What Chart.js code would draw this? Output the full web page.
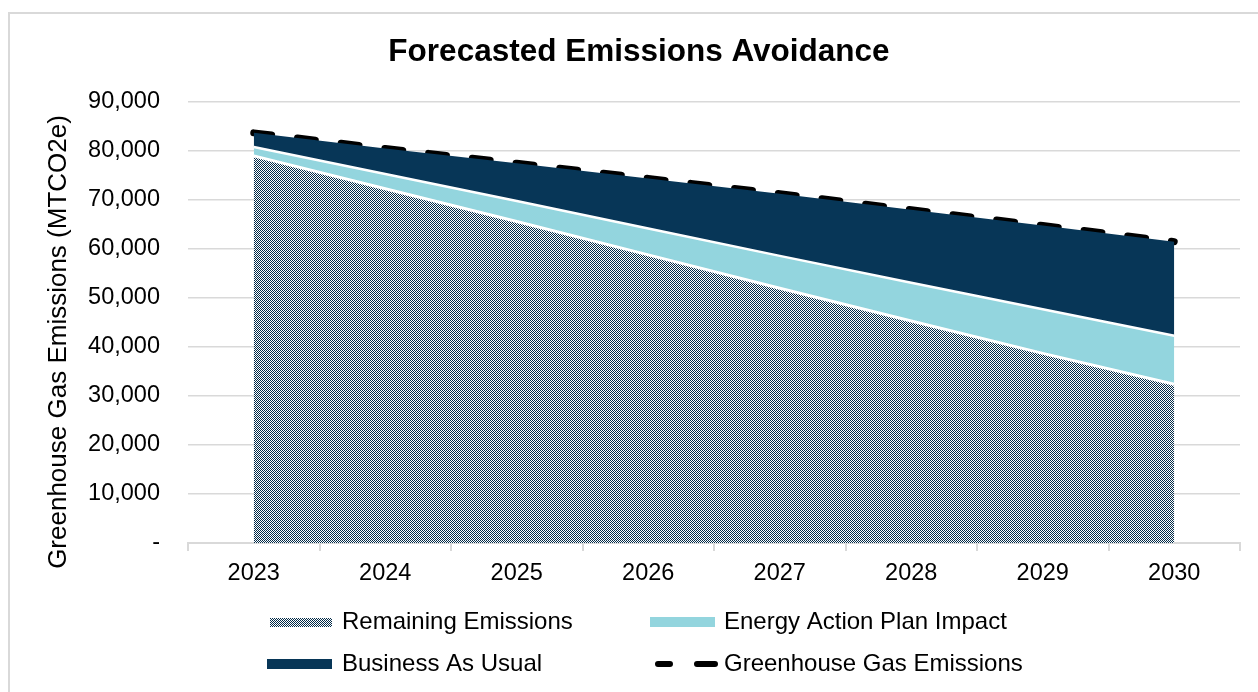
<!DOCTYPE html>
<html>
<head>
<meta charset="utf-8">
<script src="https://cdn.jsdelivr.net/npm/chart.js@4.4.1/dist/chart.umd.min.js"></script>
<style>
  html, body { margin: 0; padding: 0; background: #fff; overflow: hidden; }
  #frame { position: absolute; left: 8px; top: 12px; width: 1300px; height: 720px; border: 2px solid #d9d9d9; }
  #wrap { position: absolute; left: 0; top: 0; width: 1258px; height: 692px; }
</style>
</head>
<body>
<div id="frame"></div>
<div id="wrap"><canvas id="myChart" width="1258" height="692"></canvas></div>
<script>
// values (MTCO2e)
var years = ["2023", "2024", "2025", "2026", "2027", "2028", "2029", "2030"];
var remaining = [79000, 72300, 65600, 58800, 52000, 45300, 38700, 32400];
var actionPlan = [1800, 3000, 4200, 5400, 6600, 7800, 9000, 9900];
var businessAsUsual = [2900, 5200, 7700, 10200, 12700, 14900, 17100, 19200];
var ghgTotal = [83700, 80500, 77500, 74400, 71300, 68000, 64800, 61500];
var yTicks = [0, 10000, 20000, 30000, 40000, 50000, 60000, 70000, 80000, 90000];

const NAVY = "#073657";
const LIGHT = "#93d5de";
const FONT = '"Liberation Sans", Arial, sans-serif';

// checkerboard fill like the excel pattern
function makePattern(ctx) {
  const pc = document.createElement("canvas");
  pc.width = 2; pc.height = 2;
  const p = pc.getContext("2d");
  p.fillStyle = "#fff";
  p.fillRect(0, 0, 2, 2);
  p.fillStyle = "#042c49";
  p.fillRect(0, 0, 1, 1);
  p.fillRect(1, 1, 1, 1);
  return ctx.createPattern(pc, "repeat");
}

const canvas = document.getElementById("myChart");
const checker = makePattern(canvas.getContext("2d"));

// title, y axis title and legend drawn by hand
const decorations = {
  id: "decorations",
  afterDraw(chart) {
    const ctx = chart.ctx;
    ctx.save();
    ctx.fillStyle = "#000";
    ctx.textAlign = "center";
    ctx.textBaseline = "middle";
    ctx.font = "bold 31.5px " + FONT;
    ctx.fillText("Forecasted Emissions Avoidance", 639, 52);

    ctx.save();
    ctx.translate(59, 342);
    ctx.rotate(-Math.PI / 2);
    ctx.font = "26px " + FONT;
    ctx.fillText("Greenhouse Gas Emissions (MTCO2e)", 0, 0);
    ctx.restore();

    // legend
    ctx.font = "24px " + FONT;
    ctx.textAlign = "left";
    ctx.fillStyle = checker;
    ctx.fillRect(270, 618, 62, 9);
    ctx.fillStyle = LIGHT;
    ctx.fillRect(650, 617, 65, 10);
    ctx.fillStyle = NAVY;
    ctx.fillRect(267, 659, 65, 10);
    ctx.strokeStyle = "#000";
    ctx.lineWidth = 6;
    ctx.lineCap = "round";
    ctx.beginPath();
    ctx.moveTo(658, 664); ctx.lineTo(670, 664);
    ctx.moveTo(697, 664); ctx.lineTo(715, 664);
    ctx.stroke();

    ctx.fillStyle = "#000";
    ctx.fillText("Remaining Emissions", 342, 622);
    ctx.fillText("Energy Action Plan Impact", 724, 622);
    ctx.fillText("Business As Usual", 342, 664);
    ctx.fillText("Greenhouse Gas Emissions", 724, 664);
    ctx.restore();
  }
};

const myChart = new Chart("myChart", {
  type: "line",
  data: {
    labels: years,
    datasets: [
      {
        label: "Remaining Emissions",
        data: remaining,
        backgroundColor: checker,
        borderColor: "#fff",
        borderWidth: 3,
        fill: "origin",
        pointRadius: 0,
        tension: 0,
        stack: "areas"
      },
      {
        label: "Energy Action Plan Impact",
        data: actionPlan,
        backgroundColor: LIGHT,
        borderColor: "#fff",
        borderWidth: 2.5,
        fill: "-1",
        pointRadius: 0,
        tension: 0,
        stack: "areas"
      },
      {
        label: "Business As Usual",
        data: businessAsUsual,
        backgroundColor: NAVY,
        borderColor: NAVY,
        borderWidth: 0,
        fill: "-1",
        pointRadius: 0,
        tension: 0,
        stack: "areas"
      },
      {
        label: "Greenhouse Gas Emissions",
        data: ghgTotal,
        borderColor: "#000",
        borderWidth: 7,
        borderDash: [18, 26],
        borderCapStyle: "round",
        fill: false,
        pointRadius: 0,
        tension: 0,
        stack: "total"
      }
    ]
  },
  options: {
    responsive: false,
    animation: false,
    events: [],
    layout: { padding: { top: 102, left: 0, right: 18, bottom: 104 } },
    plugins: {
      legend: { display: false },
      title: { display: false },
      tooltip: { enabled: false }
    },
    scales: {
      x: {
        offset: true,
        grid: {
          offset: true,
          drawOnChartArea: false,
          color: "#d9d9d9",
          lineWidth: 2,
          tickLength: 8
        },
        border: { color: "#d9d9d9", width: 2 },
        ticks: { color: "#000", font: { family: FONT, size: 23.5 }, padding: 8, maxRotation: 0 },
        afterFit(s) { s.height = 45; }
      },
      y: {
        stacked: true,
        min: 0,
        max: 90000,
        afterBuildTicks(s) { s.ticks = yTicks.map(v => ({ value: v })); },
        grid: { color: "#d9d9d9", lineWidth: 1.5, drawTicks: false },
        border: { display: false },
        ticks: {
          color: "#000",
          font: { family: FONT, size: 23.5 },
          padding: 28,
          callback: v => v === 0 ? "-" : v.toLocaleString("en-US")
        },
        afterFit(s) { s.width = 188; }
      }
    }
  },
  plugins: [decorations]
});
</script>
</body>
</html>
